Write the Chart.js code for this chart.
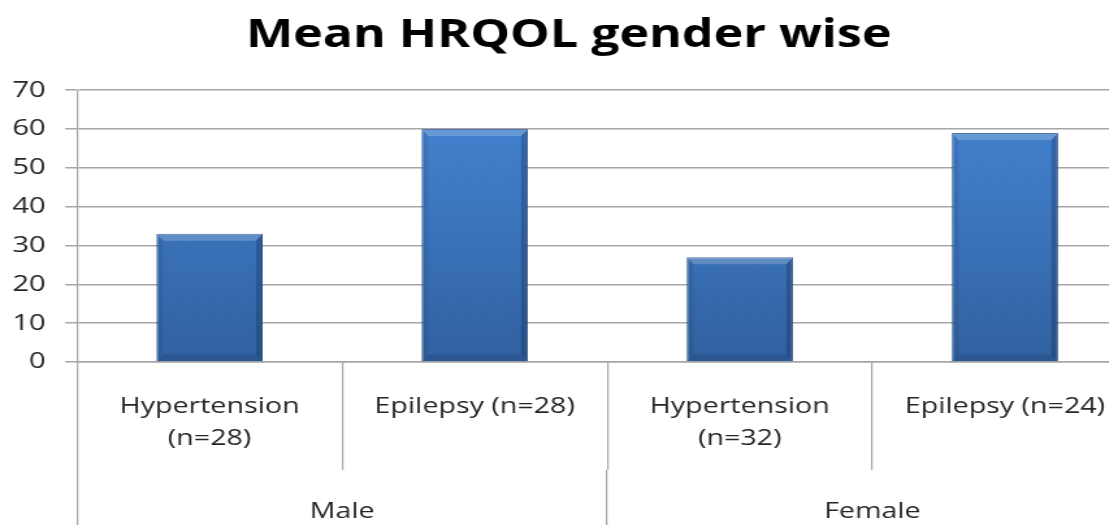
<!DOCTYPE html>
<html>
<head>
<meta charset="utf-8">
<script src="https://cdn.jsdelivr.net/npm/chart.js@4/dist/chart.umd.min.js"></script>
<style>
  html, body { margin: 0; padding: 0; background: #fff; overflow: hidden; }
  /* the original picture is a slide chart stretched sideways, so the drawing is stretched the same way */
  #wrap { position: relative; width: 877px; height: 540px; transform: scaleX(1.3); transform-origin: 0 0; }
</style>
</head>
<body>
<div id="wrap"><canvas id="myChart"></canvas></div>
<script>
// data
let groups = ['Male', 'Female'];
let conditions = [['Hypertension', '(n=28)'], 'Epilepsy (n=28)', ['Hypertension', '(n=32)'], 'Epilepsy (n=24)'];
let meanScores = [33, 60, 27, 59];
let yTicks = [0, 10, 20, 30, 40, 50, 60, 70];

let gridGrey = '#a6a6a6';
let textColor = '#262626';

// vertical blue gradient for the bars
function barFill(context) {
    let chart = context.chart;
    let area = chart.chartArea;
    if (!area) return '#3e7cc8';
    let g = chart.ctx.createLinearGradient(0, area.top, 0, area.bottom);
    g.addColorStop(0, '#4586d6');
    g.addColorStop(1, '#31619f');
    return g;
}

// small bevel on each bar, taken from the bar elements themselves
const bevelPlugin = {
    id: 'bevel',
    afterDatasetsDraw(chart) {
        let c = chart.ctx;
        let bx = 5, by = 7;
        chart.getDatasetMeta(0).data.forEach(bar => {
            let l = bar.x - bar.width / 2, r = bar.x + bar.width / 2;
            let t = bar.y, b = bar.base;
            let poly = (pts, fill) => {
                c.beginPath();
                c.moveTo(pts[0][0], pts[0][1]);
                pts.slice(1).forEach(p => c.lineTo(p[0], p[1]));
                c.closePath();
                c.fillStyle = fill;
                c.fill();
            };
            c.save();
            poly([[l, t], [r, t], [r - bx, t + by], [l + bx, t + by]], 'rgba(255,255,255,0.2)');
            poly([[r, t], [r, b], [r - bx, b - by], [r - bx, t + by]], 'rgba(10,30,70,0.28)');
            poly([[l, b], [r, b], [r - bx, b - by], [l + bx, b - by]], 'rgba(10,30,70,0.16)');
            poly([[l, t], [l, b], [l + bx, b - by], [l + bx, t + by]], 'rgba(10,30,70,0.10)');
            c.restore();
        });
    }
};

let ctx = document.getElementById('myChart').getContext('2d');
let hrqolChart = new Chart(ctx, {
    type: 'bar',
    data: {
        labels: conditions,
        datasets: [{
            label: 'Mean HRQOL',
            data: meanScores,
            backgroundColor: barFill,
            borderColor: '#2b5690',
            borderWidth: 1,
            barPercentage: 0.4,
            categoryPercentage: 1.0
        }]
    },
    plugins: [bevelPlugin],
    options: {
        responsive: true,
        maintainAspectRatio: false,
        animation: false,
        layout: {
            padding: { left: 0, right: 2, top: 0, bottom: 0 }
        },
        plugins: {
            legend: { display: false },
            tooltip: { enabled: false },
            title: {
                display: true,
                text: 'Mean HRQOL gender wise',
                color: '#000',
                font: { family: 'Open Sans', size: 38.5, weight: 'bold', lineHeight: 1.2 },
                padding: { top: 13, bottom: 31 }
            }
        },
        scales: {
            y: {
                min: 0,
                max: 70,
                afterBuildTicks: (scale) => {
                    scale.ticks = yTicks.map(v => ({ value: v }));
                },
                afterFit: (scale) => { scale.width = 59.2; },
                grid: {
                    color: gridGrey,
                    lineWidth: 1.5,
                    tickLength: 9,
                    tickColor: gridGrey
                },
                border: { display: true, color: gridGrey, width: 1.2 },
                ticks: {
                    padding: 15,
                    color: textColor,
                    font: { family: 'Open Sans', size: 22.5 }
                }
            },
            x: {
                position: 'bottom',
                afterFit: (scale) => { scale.height = 108; },
                grid: {
                    offset: true,
                    drawOnChartArea: false,
                    drawTicks: true,
                    tickLength: 108,
                    color: gridGrey,
                    tickColor: gridGrey,
                    lineWidth: 1.2
                },
                border: { display: true, color: gridGrey, width: 1.5 },
                ticks: {
                    padding: -79,
                    maxRotation: 0,
                    autoSkip: false,
                    color: textColor,
                    font: { family: 'Open Sans', size: 22, lineHeight: 1.45 }
                }
            },
            x2: {
                type: 'category',
                position: 'bottom',
                labels: groups,
                offset: true,
                afterFit: (scale) => { scale.height = 70; },
                grid: {
                    offset: true,
                    drawOnChartArea: false,
                    drawTicks: true,
                    tickLength: 70,
                    color: gridGrey,
                    tickColor: gridGrey,
                    lineWidth: 1.2
                },
                border: { display: false },
                ticks: {
                    padding: -44,
                    maxRotation: 0,
                    autoSkip: false,
                    color: textColor,
                    font: { family: 'Open Sans', size: 22, lineHeight: 1.45 }
                }
            }
        }
    }
});
</script>
</body>
</html>
